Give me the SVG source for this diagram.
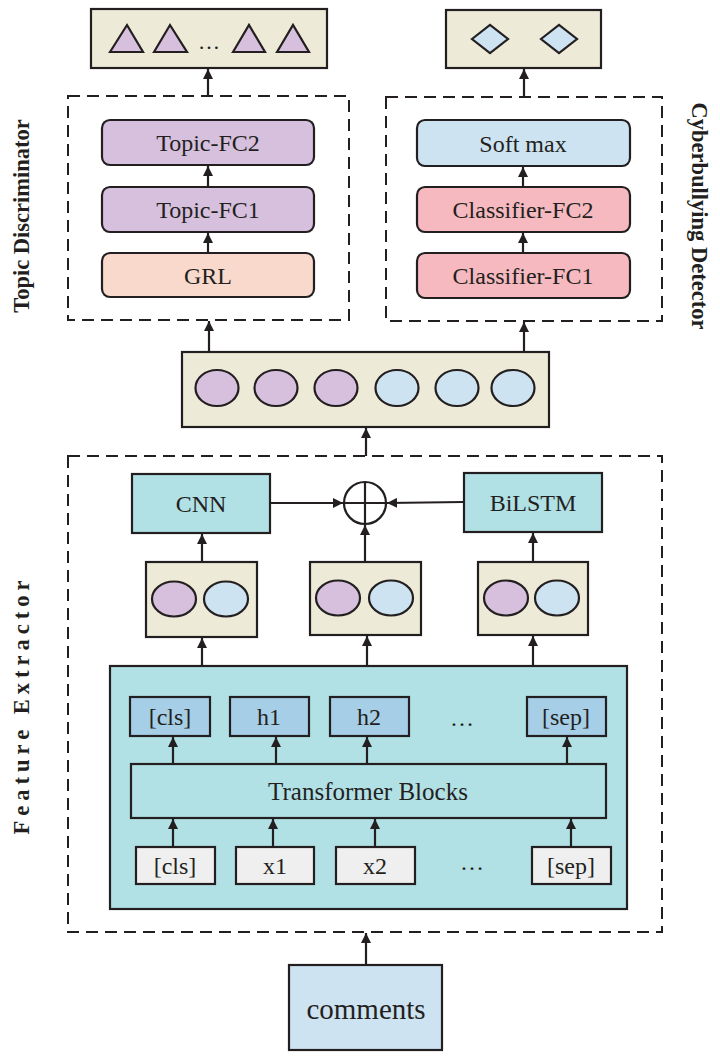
<svg xmlns="http://www.w3.org/2000/svg" width="720" height="1059" viewBox="0 0 720 1059">
<style>
.b{stroke:#231F20;stroke-width:2.2}
.beige{fill:#EDEAD8}
.pur{fill:#D6C0DD}
.lb{fill:#CDE3F1}
.grl{fill:#F9D9CC}
.cls{fill:#F5B9BF}
.teal{fill:#B1E0E5}
.tok{fill:#A6CEE6}
.inp{fill:#EFEFEF}
.dash{fill:none;stroke:#231F20;stroke-width:2;stroke-dasharray:12 7}
text{font-family:"Liberation Serif","Times New Roman",serif;fill:#231F20;text-anchor:middle}
.t{font-size:24px}
.side{font-size:22.5px;font-weight:bold}
.ln{stroke:#231F20;stroke-width:2.2;fill:none}
</style>
<defs>
<marker id="ah" viewBox="0 0 10 10" refX="10" refY="5" markerWidth="10" markerHeight="10" markerUnits="userSpaceOnUse" orient="auto">
<path d="M0,0 L10,5 L0,10 z" fill="#231F20"/>
</marker>
</defs>

<g id="topic-output">
<rect class="b beige" x="91" y="9" width="236" height="59"/>
<polygon class="b pur" points="110,52 127,25 143,52"/>
<polygon class="b pur" points="154,52 170,25 187,52"/>
<text x="209" y="49" style="font-size:22px">…</text>
<polygon class="b pur" points="233,52 249,25 265,52"/>
<polygon class="b pur" points="277,52 293,25 309,52"/>
</g>
<g id="cb-output">
<rect class="b beige" x="446" y="10" width="155" height="58"/>
<polygon class="b lb" points="472,39 490,25 508,39 490,53"/>
<polygon class="b lb" points="541,39 559,25 577,39 559,53"/>
</g>

<g id="topic-discriminator">
<rect class="dash" x="68" y="96" width="281" height="224"/>
<text class="side" transform="translate(29,216) rotate(-90)">Topic Discriminator</text>
</g>
<g id="topic-fc2"><rect class="b pur" x="102" y="120" width="212" height="45" rx="8"/><text class="t" x="208" y="151">Topic-FC2</text></g>
<g id="topic-fc1"><rect class="b pur" x="102" y="187" width="212" height="45" rx="8"/><text class="t" x="208" y="218">Topic-FC1</text></g>
<g id="grl"><rect class="b grl" x="102" y="253" width="212" height="44" rx="8"/><text class="t" x="208" y="284">GRL</text></g>

<g id="cyberbullying-detector">
<rect class="dash" x="386" y="97" width="276" height="224"/>
<text class="side" transform="translate(692,216) rotate(90)">Cyberbullying Detector</text>
</g>
<g id="softmax"><rect class="b lb" x="417" y="120" width="213" height="46" rx="8"/><text class="t" x="523" y="152">Soft max</text></g>
<g id="classifier-fc2"><rect class="b cls" x="417" y="187" width="213" height="45" rx="8"/><text class="t" x="523" y="218">Classifier-FC2</text></g>
<g id="classifier-fc1"><rect class="b cls" x="417" y="253" width="213" height="45" rx="8"/><text class="t" x="523" y="284">Classifier-FC1</text></g>

<g id="feature-vector">
<rect class="b beige" x="182" y="352" width="367" height="75"/>
<ellipse class="b pur" cx="217" cy="388" rx="21.5" ry="18"/>
<ellipse class="b pur" cx="276" cy="388" rx="21.5" ry="18"/>
<ellipse class="b pur" cx="336" cy="388" rx="21.5" ry="18"/>
<ellipse class="b lb" cx="397" cy="388" rx="21.5" ry="18"/>
<ellipse class="b lb" cx="457" cy="388" rx="21.5" ry="18"/>
<ellipse class="b lb" cx="513" cy="388" rx="21.5" ry="18"/>
</g>

<g id="feature-extractor">
<rect class="dash" x="68" y="456" width="594" height="476"/>
<text class="side" transform="translate(29,705) rotate(-90)" style="letter-spacing:5px">Feature Extractor</text>
</g>
<g id="cnn"><rect class="b teal" x="132" y="474" width="138" height="59"/><text class="t" x="201" y="512">CNN</text></g>
<g id="bilstm"><rect class="b teal" x="464" y="473" width="138" height="59"/><text class="t" x="533" y="511">BiLSTM</text></g>
<g id="add">
<circle class="b" fill="#FFFFFF" cx="365" cy="503" r="21"/>
<line class="ln" x1="344" y1="503" x2="386" y2="503"/>
<line class="ln" x1="365" y1="482" x2="365" y2="524"/>
</g>
<g id="pair-left">
<rect class="b beige" x="146" y="562" width="111" height="75"/>
<ellipse class="b pur" cx="174" cy="599" rx="22" ry="17.5"/>
<ellipse class="b lb" cx="226" cy="599" rx="22" ry="17.5"/>
</g>
<g id="pair-mid">
<rect class="b beige" x="310" y="562" width="111" height="73"/>
<ellipse class="b pur" cx="338" cy="598" rx="22" ry="17.5"/>
<ellipse class="b lb" cx="391" cy="598" rx="22" ry="17.5"/>
</g>
<g id="pair-right">
<rect class="b beige" x="478" y="562" width="110" height="73"/>
<ellipse class="b pur" cx="506" cy="598" rx="22" ry="17.5"/>
<ellipse class="b lb" cx="557" cy="598" rx="22" ry="17.5"/>
</g>

<g id="bert">
<rect class="b teal" x="110" y="666" width="517" height="243"/>
</g>
<g id="transformer"><rect class="b teal" x="131" y="764" width="475" height="54"/><text x="368" y="800" style="font-size:25px">Transformer Blocks</text></g>
<g id="out-cls"><rect class="b tok" x="130" y="697" width="80" height="39"/><text class="t" x="170" y="725">[cls]</text></g>
<g id="out-h1"><rect class="b tok" x="230" y="697" width="79" height="39"/><text class="t" x="269" y="725">h1</text></g>
<g id="out-h2"><rect class="b tok" x="330" y="697" width="79" height="39"/><text class="t" x="369" y="725">h2</text></g>
<text class="t" x="462" y="726">…</text>
<g id="out-sep"><rect class="b tok" x="527" y="697" width="79" height="39"/><text class="t" x="566" y="725">[sep]</text></g>
<g id="in-cls"><rect class="b inp" x="136" y="847" width="79" height="37"/><text class="t" x="175" y="874">[cls]</text></g>
<g id="in-x1"><rect class="b inp" x="236" y="847" width="78" height="37"/><text class="t" x="275" y="874">x1</text></g>
<g id="in-x2"><rect class="b inp" x="336" y="847" width="79" height="37"/><text class="t" x="375" y="874">x2</text></g>
<text class="t" x="472" y="870">…</text>
<g id="in-sep"><rect class="b inp" x="532" y="847" width="79" height="37"/><text class="t" x="571" y="874">[sep]</text></g>

<g id="comments"><rect class="b lb" x="289" y="965" width="153" height="85"/><text x="366" y="1019" style="font-size:29px">comments</text></g>

<g id="connectors" class="ln" marker-end="url(#ah)">
<line x1="208" y1="96" x2="208" y2="69"/>
<line x1="524" y1="97" x2="524" y2="69"/>
<line x1="208" y1="187" x2="208" y2="166"/>
<line x1="208" y1="253" x2="208" y2="233"/>
<line x1="523" y1="187" x2="523" y2="167"/>
<line x1="523" y1="253" x2="523" y2="233"/>
<line x1="209" y1="352" x2="209" y2="321"/>
<line x1="524" y1="352" x2="524" y2="322"/>
<line x1="366" y1="456" x2="366" y2="428"/>
<line x1="270" y1="503" x2="343" y2="503"/>
<line x1="464" y1="502" x2="387" y2="503"/>
<line x1="202" y1="562" x2="202" y2="534"/>
<line x1="365" y1="562" x2="365" y2="525"/>
<line x1="533" y1="562" x2="533" y2="533"/>
<line x1="202" y1="666" x2="202" y2="638"/>
<line x1="367" y1="666" x2="367" y2="636"/>
<line x1="533" y1="666" x2="533" y2="636"/>
<line x1="173" y1="764" x2="173" y2="737"/>
<line x1="276" y1="764" x2="276" y2="737"/>
<line x1="367" y1="764" x2="367" y2="737"/>
<line x1="567" y1="764" x2="567" y2="737"/>
<line x1="173" y1="847" x2="173" y2="819"/>
<line x1="273" y1="847" x2="273" y2="819"/>
<line x1="375" y1="847" x2="375" y2="819"/>
<line x1="571" y1="847" x2="571" y2="819"/>
<line x1="366" y1="965" x2="366" y2="933"/>
</g>
</svg>
